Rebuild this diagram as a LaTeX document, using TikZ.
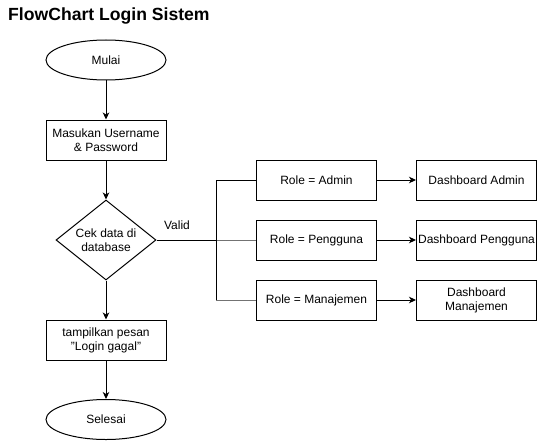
\documentclass[tikz,border=0pt]{standalone}
\usepackage{fontspec}
\setmainfont{Liberation Sans}
\usetikzlibrary{shapes.geometric,arrows.meta}
\begin{document}
\begin{tikzpicture}[x=1pt,y=-1pt,
  every node/.style={font=\fontsize{12}{14}\selectfont, align=center, inner sep=0pt},
  term/.style={ellipse, draw, line width=1pt, minimum width=120pt, minimum height=40pt},
  proc/.style={rectangle, draw, line width=1pt, minimum width=120pt, minimum height=40pt},
  dec/.style={diamond, draw, line width=1pt, minimum width=100pt, minimum height=80pt, aspect=1.25},
  conn/.style={line width=1pt},
  arr/.style={conn, -{Stealth[length=7pt,width=6.5pt,inset=2pt]}}]
\useasboundingbox (0,0) rectangle (537,441);
\node[anchor=west, font=\fontsize{17.6}{20}\selectfont\bfseries] (title) at (8,16) {FlowChart Login Sistem};
\node[term] (mulai) at (106,60) {Mulai};
\node[proc] (input) at (106,140) {Masukan Username\\\& Password};
\node[dec] (cek) at (106,240) {Cek data di\\database};
\node[proc] (gagal) at (106,340) {tampilkan pesan\\"Login gagal"};
\node[term] (selesai) at (106,419.5) {Selesai};
\node[proc] (ra) at (316.5,180) {Role = Admin};
\node[proc] (rp) at (316.5,240) {Role = Pengguna};
\node[proc] (rm) at (316.5,300) {Role = Manajemen};
\node[proc] (da) at (476.5,180) {Dashboard Admin};
\node[proc] (dp) at (476.5,240) {Dashboard Pengguna};
\node[proc] (dm) at (476.5,300) {Dashboard\\Manajemen};
\coordinate (j) at (216,240);
\node (valid) at (177,225) {Valid};
\draw[arr] (mulai) -- (input);
\draw[arr] (input) -- (cek);
\draw[arr] (cek) -- (gagal);
\draw[arr] (gagal) -- (selesai);
\draw[conn] (cek.east) -- (j) |- (ra.west);
\draw[conn, black!55] (j) -- (rp.west);
\draw[conn] (j) -- (j|-rm.west);
\draw[conn, black!55] (j|-rm.west) -- (rm.west);
\draw[arr] (ra) -- (da);
\draw[arr] (rp) -- (dp);
\draw[arr] (rm) -- (dm);
\end{tikzpicture}
\end{document}
